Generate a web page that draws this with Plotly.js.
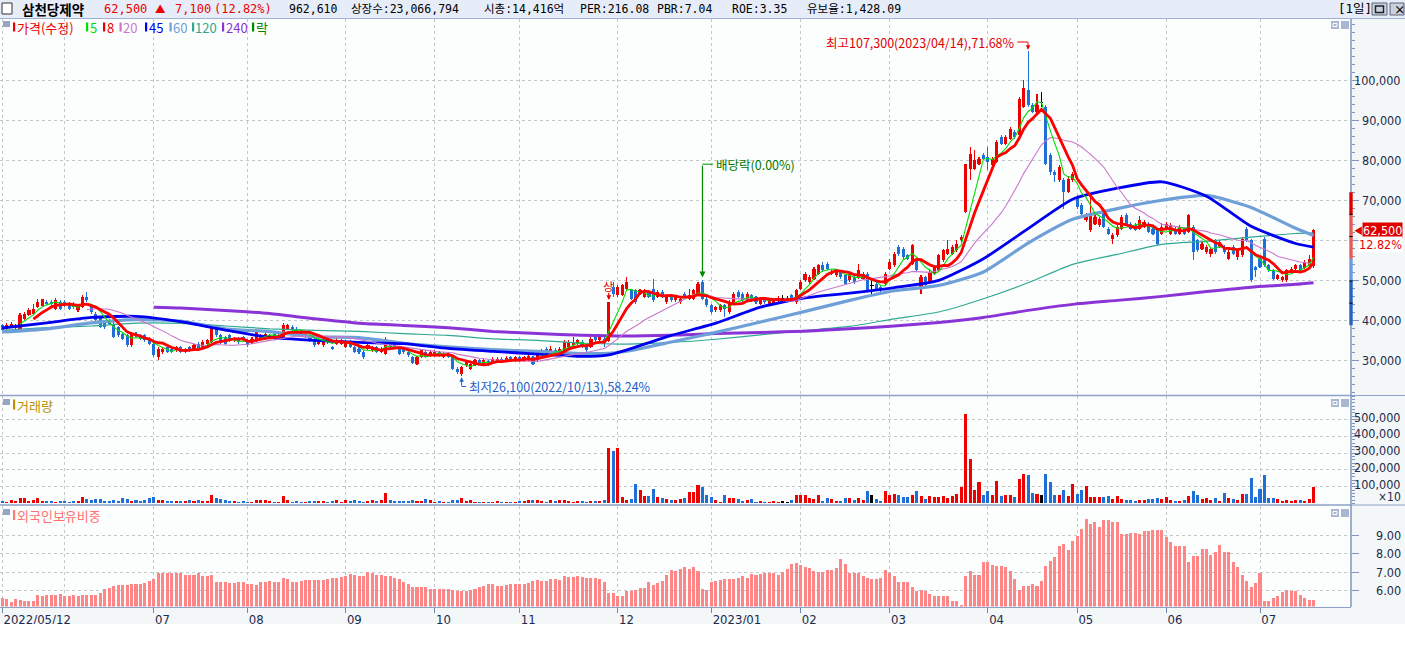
<!DOCTYPE html>
<html><head><meta charset="utf-8">
<script src="https://cdn.plot.ly/plotly-3.0.1.min.js"></script>
<style>html,body{margin:0;padding:0;background:#fff;}#chart{width:1405px;height:648px;}</style>
</head><body><div id="chart"></div>
<script>
// ================= DATA =================
const monthIdx  = [0,34,55,77,97,116,138,159,179,199,221,241,261,282];
const monthText = ['2022/05/12','07','08','09','10','11','12','2023/01','02','03','04','05','06','07'];
const juneIdx = [14];

const open = [38800,37900,38300,38200,37900,40400,41250,41650,43300,43600,
44600,44600,42900,44600,44600,44150,44150,42500,43300,45850,
43750,41650,40800,39600,40000,39150,38300,36650,36250,33750,
36650,36250,36250,35400,34150,30850,32100,33300,32900,32500,
33300,32100,33300,32900,34150,33300,34150,34600,38100,36250,
35850,36250,35000,35400,35850,35000,34600,35000,35400,35400,
35850,36650,35400,35850,37900,38300,37900,37100,35850,36250,
35400,34150,33750,35400,33300,34150,34150,33300,34600,33300,
32900,32100,32900,32500,33300,32100,31650,34600,34150,32900,
32900,32100,30850,29150,30850,32100,31250,31250,32100,30850,
31650,30850,27900,26500,28750,27900,28750,30000,28750,29800,
29600,29600,30400,29850,30850,30000,30850,30000,30150,30850,
30000,31650,32900,32100,32650,32100,32100,33300,33750,34150,
34600,33750,33300,35850,35000,35400,34900,48300,46300,46250,
47900,47500,47500,46700,45850,47100,47900,45850,47100,44600,
46250,45000,44600,46650,45400,45400,46650,49600,45400,43750,
42500,42500,43750,42100,44150,47100,46650,45000,46250,45850,
44150,45400,44150,44350,45000,45400,45400,46250,44600,47900,
50000,49600,50400,51650,53750,54150,51650,51250,52100,51250,
50000,50850,50850,50400,51650,48750,49150,48300,49150,52900,
53750,58300,57900,56250,54150,55000,48350,50850,49600,51650,
52500,55000,56650,56650,57500,60000,67100,77900,77900,79150,
81250,80850,78750,79600,85850,84150,85400,87100,86250,93350,
97500,93750,92100,94500,93350,81250,77100,75000,75150,72100,
75000,70850,68750,65000,62500,64150,63750,67500,62900,60400,
61250,62900,66250,64150,63750,62900,63350,64150,62900,62500,
61650,62900,61650,62900,61650,62900,62100,63350,60000,57900,
57100,56500,60000,58350,58350,55400,58350,55850,56250,62900,
60000,53350,55400,60400,53750,52500,50400,50000,50000,52100,
52900,53750,53150,53750,53500];

const high = [39200,39300,39500,39000,41800,42100,43000,44150,45400,45400,
45000,45000,45500,45000,45000,44500,44600,44100,46300,47100,
44000,42000,41200,40000,40400,39500,38700,37000,36600,37000,
37100,36700,36700,35800,34500,33300,33300,33700,33300,33600,
33700,33200,33700,34100,34500,35000,35400,38400,38600,36600,
36200,36600,35800,35800,36200,35400,35800,37500,36700,37100,
36700,37000,36600,39400,39200,38800,38300,37500,37000,36600,
35800,35400,35400,35800,33600,35500,35400,35000,35000,33700,
33300,32500,34100,33700,33700,33300,35800,35000,34500,33300,
33200,32500,31200,31200,32900,32500,32500,32500,32400,32000,
32000,31200,28300,28700,30000,29500,30400,30400,30400,30200,
30800,30800,30800,31000,31200,31200,31100,31200,31400,31200,
32000,32900,33300,33600,33000,33300,35000,35000,35800,35400,
35000,34100,35800,36600,36700,35800,44700,49600,48800,49200,
50800,47900,47900,47900,47900,47500,50400,47500,47500,46700,
46600,46200,46200,47000,47900,47900,49600,50000,45800,44200,
43700,44100,44100,45000,47100,47500,47000,47000,46600,46200,
45800,45800,45500,45500,46000,46250,46200,46600,47900,50000,
52100,51300,53300,54200,54600,54600,52500,52900,52500,51600,
52000,51200,54150,52000,52000,50000,49500,48700,52000,55400,
57100,58750,58300,56700,59000,55400,51300,51200,52500,53700,
56700,57900,60000,58800,60000,61300,79100,83350,82500,80800,
81700,83300,80800,85000,86300,86300,88300,87500,95800,100000,
107300,94200,96650,97100,93800,81700,77500,78800,75500,76000,
77100,71300,69200,66700,70850,66300,65800,67900,63300,61700,
63800,66300,66700,64600,64200,66000,65000,64600,63300,62900,
64350,64600,64200,63300,63700,63300,66600,63800,60400,59600,
58800,58300,60400,60000,58800,57500,58800,57900,60800,63350,
60400,53700,55800,60850,54100,52900,51600,51200,52900,53300,
54100,54100,55000,56250,62900];

const low = [37300,37700,38000,37900,37600,40100,41000,41300,43000,43300,
43800,43600,42700,42500,43400,42500,42900,42100,43000,44600,
41700,39600,38000,37900,38900,35500,35900,35000,33300,33400,
35900,35000,34600,33800,30800,30000,31700,31800,31800,32100,
31900,31800,32200,32600,32600,33000,33900,34300,35900,34200,
33900,34600,34600,34200,34700,33300,34200,34700,35000,35100,
35500,35100,35100,35500,37500,37100,36300,35900,35500,34600,
33400,33800,33400,34200,32500,33900,33800,33000,33000,31800,
31700,30400,32500,32100,31800,31800,31300,33000,32900,31300,
31700,30900,29000,28900,30500,30500,30900,30900,30900,30500,
30500,27500,26700,26100,28400,27700,28500,28900,28500,28700,
29300,29300,29300,29500,29700,29700,29500,29700,29900,28800,
29700,31300,31300,31800,31500,31800,31800,33000,33400,33800,
33000,32100,33000,34700,34700,33400,34500,45800,45800,46000,
47500,45000,44200,46300,45500,45500,44700,45500,45500,44200,
44700,44600,44200,45500,45000,45000,46300,45000,43300,41700,
42100,42100,40850,41700,43800,45500,44600,44600,44600,44200,
43800,44200,43800,44000,44700,44800,44900,44700,44200,47500,
49600,49200,50000,51300,52100,52500,51300,50800,50400,48800,
49600,49200,50400,50000,47100,46650,47500,47100,48800,52500,
53300,56200,55400,55000,53800,52100,46700,48300,49200,51300,
52100,54600,56300,56300,57100,59600,66700,75000,77500,78800,
80000,77500,78300,79200,83800,83800,85000,85400,85800,93000,
93300,91700,91700,93300,78800,76300,74500,74600,67900,71700,
74600,67900,66300,64600,62100,63800,63300,63000,61300,59150,
60900,62500,63800,62500,62300,62500,63000,61700,61300,58800,
61300,62500,61300,61300,61300,61300,61700,55000,57100,57500,
56700,55850,56700,58000,56700,55000,56300,55000,55900,59600,
49600,50850,53000,53300,52100,50000,50000,49600,49700,51700,
52100,52100,52800,53400,53200];

const close = [37500,38900,39150,38500,41400,41650,42500,42900,44600,45250,
44150,44150,45000,42900,43750,42900,43300,43750,45850,45000,
42100,40000,38300,38300,39150,35850,36250,35400,33750,36650,
36250,35400,35000,34150,31250,32900,32900,32100,32100,33300,
32100,32900,32500,33750,32900,34600,35000,38100,36250,34600,
34150,35000,35400,34600,35000,33750,35400,37100,36250,36650,
36250,35400,36250,38900,38750,37500,36650,36250,36650,35000,
33750,35000,35000,34600,32900,35150,35000,34600,33300,32100,
32100,30850,33750,33300,32100,32900,35400,33300,33300,31650,
32100,31250,29350,30850,32500,30850,32100,32100,31250,31650,
30850,27900,27100,28350,29600,29150,30000,29150,30000,29000,
30400,30400,29600,30650,30000,30850,29850,30850,31000,29150,
31650,32500,31650,32900,31850,32900,34600,34600,34600,35000,
33300,32500,35400,35000,36250,34400,44700,46700,48300,48750,
49600,45400,44600,47500,47500,45850,45000,47100,45850,46250,
45000,45850,45400,45850,46250,47500,49150,45400,43750,42100,
43300,43750,42900,44600,46650,45850,45000,46650,45000,44600,
45400,44600,45150,45150,45650,45400,45400,45000,47500,49600,
51650,50850,52900,53750,52500,52900,52100,52500,50850,49150,
51650,49600,52500,51650,47500,48750,47900,47500,51650,54600,
56650,56650,55850,55400,58750,52500,50850,48750,52100,53350,
56250,57500,57900,58350,59000,60850,79100,81650,80000,80400,
80400,79600,80400,84600,84150,85850,87900,85850,95400,97900,
93750,92100,93750,94500,79150,77100,76250,78350,72100,75400,
76650,68350,66650,66250,66250,65850,65400,63350,61650,61250,
63300,65850,64150,62900,62650,65150,64600,62100,61650,59150,
63350,64150,63750,61650,63350,61650,66250,57100,57500,59150,
58350,57900,57100,59600,57100,57100,56650,57500,60400,60000,
50000,52500,53350,53750,52500,50400,51250,50850,52500,52900,
53750,52500,54600,55400,62500];

// volume in thousands of axis units (axis unit = 10 shares)
const volumeK = [12,8,18,12,31,31,12,18,31,12,
12,12,6,12,12,6,12,12,37,24,
18,24,24,12,12,18,12,31,24,12,
18,12,18,31,37,18,18,12,12,12,
12,12,18,12,18,12,12,49,31,24,
18,12,12,6,12,6,6,18,18,18,
12,6,6,43,18,6,12,6,6,12,
12,12,12,6,12,18,6,18,12,18,
12,6,12,18,14,18,61,18,12,12,
12,12,18,12,12,24,18,6,12,6,
6,18,18,31,12,18,6,6,6,8,
8,12,6,6,8,6,12,12,18,18,
18,12,6,18,12,18,18,12,6,12,
12,6,12,12,12,18,333,316,333,37,
18,24,116,80,43,43,86,37,31,24,
18,18,24,30,71,71,113,101,53,36,
18,6,48,30,30,24,12,18,24,6,
12,6,6,12,6,12,6,18,48,53,
48,30,24,53,12,30,24,12,12,30,
30,18,30,18,77,53,24,12,77,53,
59,53,36,36,53,77,42,24,42,36,
36,42,30,42,59,101,535,267,83,131,
53,77,48,137,42,48,48,36,149,178,
172,65,59,53,178,131,48,53,83,42,
119,59,83,107,36,36,36,36,42,24,
42,24,18,18,12,18,18,24,24,30,
24,36,18,12,12,18,42,77,53,24,
30,18,30,12,65,30,24,18,59,59,
154,36,89,172,30,30,24,12,18,12,
18,18,12,24,96.261];

// foreign ownership ratio (%)
const foreign = [5.57,5.52,5.36,5.52,5.48,5.40,5.40,5.40,5.75,5.70,
5.72,5.72,5.72,5.80,5.70,5.70,5.72,5.70,5.75,5.75,
5.72,5.75,5.86,6.05,6.15,6.25,6.30,6.30,6.32,6.37,
6.35,6.37,6.40,6.50,6.64,6.95,6.95,6.95,6.95,6.95,
6.95,6.87,6.87,6.87,6.97,6.77,6.80,6.87,6.48,6.48,
6.48,6.42,6.39,6.45,6.45,6.33,6.33,6.30,6.48,6.48,
6.52,6.45,6.45,6.67,6.60,6.48,6.45,6.52,6.58,6.58,
6.58,6.58,6.58,6.64,6.66,6.68,6.72,6.77,6.90,6.83,
6.80,6.77,7.00,6.97,6.83,6.83,6.81,6.77,6.68,6.60,
6.48,6.37,6.20,6.17,6.17,6.17,6.06,6.06,6.06,6.06,
6.06,6.00,5.94,5.94,5.94,6.00,6.10,6.19,6.25,6.33,
6.35,6.25,6.25,6.30,6.33,6.37,6.37,6.37,6.39,6.52,
6.58,6.52,6.52,6.64,6.60,6.58,6.81,6.73,6.75,6.77,
6.71,6.70,6.68,6.68,6.60,6.48,5.83,5.83,5.67,5.67,
5.94,5.94,6.00,6.12,6.12,6.48,6.29,6.40,6.52,6.83,
7.14,7.06,7.20,7.26,7.16,7.26,7.06,6.10,6.00,6.48,
6.52,6.58,6.60,6.64,6.64,6.68,6.77,6.68,6.92,6.87,
6.90,6.93,6.93,6.95,6.87,7.02,7.20,7.45,7.49,7.41,
7.26,7.22,7.06,7.02,7.02,7.10,7.14,7.22,7.74,7.45,
6.97,6.97,6.97,6.77,6.68,6.64,6.64,6.68,7.10,6.97,
6.77,6.45,6.48,6.48,6.19,5.94,6.00,5.94,5.81,5.71,
5.71,5.71,5.67,5.42,5.42,5.17,6.77,7.06,6.87,6.83,
7.55,7.55,7.39,7.35,7.33,7.29,7.06,6.64,6.00,6.25,
6.25,6.37,6.25,6.52,7.35,7.60,7.84,8.42,8.55,8.22,
8.70,9.00,9.35,9.93,9.66,9.74,9.51,9.87,9.89,9.74,
9.74,9.10,9.10,9.14,9.14,9.10,9.24,9.29,9.31,9.31,
9.31,8.92,8.65,8.42,8.42,8.42,7.55,7.90,7.90,8.25,
8.25,7.92,8.10,8.50,8.10,8.10,7.55,7.26,6.87,6.50,
6.19,6.39,6.93,5.42,5.42,5.60,5.71,5.90,6.00,5.94,
5.98,5.75,5.60,5.48,5.48];

// long moving averages (their history starts before the window)
const ma45Idx = [0,10,20,30,40,50,60,70,80,90,100,110,120,130,136,140,150,160,170,180,190,200,210,220,230,240,250,260,270,280,290,294];
const ma45Val = [38100,39400,40750,41000,39700,37600,35750,35000,34500,34200,33000,32250,31600,31000,31400,32600,36250,39300,43300,45600,46800,48200,50000,55400,62900,70250,73000,74600,71000,63500,59200,58300];
const ma60Idx = [0,10,20,30,40,50,60,70,80,90,100,110,120,130,136,140,150,160,170,180,190,200,210,220,230,240,250,260,270,280,290,294];
const ma60Val = [37100,37900,39400,40200,39800,37900,37200,35900,35700,34300,33400,32700,32250,31700,31800,32300,34600,37000,39600,42250,45000,47400,48750,52100,59300,65250,67900,70000,71200,68200,63000,61200];
const ma120Idx = [0,10,20,30,40,50,60,70,80,90,100,110,120,130,140,150,160,170,180,190,200,210,220,230,240,250,260,270,280,290,294];
const ma120Val = [37500,38200,38600,39300,39250,38600,37900,37500,37250,36700,36250,35400,35000,34300,34100,34500,35300,36400,37500,38500,40400,42100,45400,49400,54000,56500,59000,59750,60800,61700,61850];
const ma240Idx = [34,40,50,60,70,80,90,100,110,120,130,140,150,160,170,180,190,200,210,220,230,240,250,260,270,280,290,294];
const ma240Val = [43300,43100,42500,41700,40400,39300,38750,38150,37250,36700,36300,36100,36300,36700,37000,37300,37900,38600,39500,40750,42500,44000,45000,46000,47200,48300,49000,49400];

const priceTicks = [30000,40000,50000,60000,70000,80000,90000,100000];
const volTicks = [100000,200000,300000,400000,500000];
const forTicks = [6,7,8,9];
const legendLabels = ['가격(수정)','5','8','20','45','60','120','240','락'];
const exDivIdx = 157;     // 배당락 2022/12/28
const limitUpIdx = 136;   // 상한가 2022/11/29
const highLabel = '최고107,300(2023/04/14),71.68%';
const lowLabel  = '최저26,100(2022/10/13),58.24%';
const headerInfo = ['상장수:23,066,794','시총:14,416억','PER:216.08','PBR:7.04','ROE:3.35','유보율:1,428.09'];
const stockName = '삼천당제약';

// ================= STYLE / LAYOUT =================
const W = 1405, H = 648;
const px = v => v / W;
const py = v => 1 - v / H;
const RED = '#ee0000', BLUE = '#1f6fd6', BLACK = '#000000';
const KFONT = 'Noto Sans CJK KR, sans-serif';
const NFONT = 'DejaVu Sans Condensed, Noto Sans CJK KR, sans-serif';
const MFONT = 'DejaVu Sans Mono, Noto Sans CJK KR, monospace';
const AXCOL = '#1e2a4e';
const fmt = n => Math.round(n).toLocaleString('en-US');

const N = close.length;
const idx = close.map((_, i) => i);
const cCol = close.map((c, i) => c > open[i] ? RED : (c < open[i] ? BLUE : BLACK));
function sma(arr, n) {
  return arr.map((_, i) => i < n - 1 ? null : arr.slice(i - n + 1, i + 1).reduce((a, b) => a + b, 0) / n);
}

const traces = [];
traces.push({type:'bar', x: idx, y: foreign, width: 0.68, marker:{color:'#ff8686', line:{width:0}}, xaxis:'x', yaxis:'y3', hoverinfo:'skip'});
traces.push({type:'bar', x: idx, y: volumeK.map(v => v * 1000), width: 0.68, marker:{color: cCol, line:{width:0}}, xaxis:'x', yaxis:'y2', hoverinfo:'skip'});
traces.push({type:'bar', x: idx, base: low, y: high.map((h, i) => h - low[i]), width: 0.24, marker:{color: cCol, line:{width:0}}, xaxis:'x', yaxis:'y', hoverinfo:'skip'});
traces.push({type:'bar', x: idx,
  base: close.map((c, i) => c === open[i] ? c - 130 : Math.min(c, open[i])),
  y: close.map((c, i) => Math.max(Math.abs(c - open[i]), 260)),
  width: 0.7, marker:{color: cCol, line:{width:0}}, xaxis:'x', yaxis:'y', hoverinfo:'skip'});

function line(x, y, color, width, shape) {
  return {type:'scatter', mode:'lines', x, y, line:{color, width, shape: shape || 'linear', smoothing: 0.6}, xaxis:'x', yaxis:'y', hoverinfo:'skip', connectgaps:false};
}
traces.push(line(ma120Idx, ma120Val, '#2fa893', 1.2, 'spline'));
traces.push(line(ma240Idx, ma240Val, '#8a33d6', 3, 'spline'));
traces.push(line(ma60Idx, ma60Val, '#6f9fd8', 3.2, 'spline'));
traces.push(line(ma45Idx, ma45Val, '#0000f0', 2.8, 'spline'));
traces.push(line(idx, sma(close, 20), '#cc77cc', 1.1));
traces.push(line(idx, sma(close, 5), '#00dd00', 1.1));
traces.push(line(idx, sma(close, 8), '#ff0000', 2.8));

// ---------- shapes ----------
const shapes = [];
function rect(x0, y0, x1, y1, fill, lc, lw) {
  shapes.push({type:'rect', xref:'paper', yref:'paper', x0:px(x0), x1:px(x1), y0:py(y1), y1:py(y0), fillcolor:fill, line:{color: lc || fill, width: lw == null ? 0 : lw}, layer:'above'});
}
function hline(y, x0, x1, color, w) {
  shapes.push({type:'line', xref:'paper', yref:'paper', x0:px(x0), x1:px(x1), y0:py(y), y1:py(y), line:{color, width:w}, layer:'above'});
}
rect(0, 0, W, 18, '#e7edf8');
hline(18.5, 0, W, '#9fb2d4', 1);
rect(2, 3, 12, 14, '#ffffff', '#333333', 1);
rect(1372, 3, 1387, 15, '#c9d0de', '#5d6678', 1);
rect(1375.5, 6, 1383.5, 12.5, 'rgba(0,0,0,0)', '#222', 1.4);
rect(1390, 3, 1404, 15, '#c9d0de', '#5d6678', 1);
rect(0, 624, W, H, '#ffffff');
hline(395.5, 0, 1351, '#8ca2c8', 1.5);
hline(505, 0, 1351, '#8ca2c8', 1.5);
hline(395.5, 1351, W, '#8ca2c8', 1);
hline(505, 1351, W, '#8ca2c8', 1);
shapes.push({type:'line', xref:'paper', yref:'paper', x0:px(1351), x1:px(1351), y0:py(607), y1:py(19), line:{color:'#8096c0', width:1.5}, layer:'above'});
[20, 398, 508].forEach(y0 => {
  rect(3, y0 + 1, 10, y0 + 7, '#97a5c2');
  rect(1331, y0 + 1, 1339, y0 + 9, '#a9b7d2');
  rect(1333, y0 + 3.5, 1337, y0 + 6.5, 'rgba(0,0,0,0)', '#ffffff', 1);
  rect(1341, y0 + 1, 1349, y0 + 9, '#a9b7d2');
});
const legendColors = [RED, '#00dd00', RED, '#cc77cc', '#0000f0', '#6f9fd8', '#2fa893', '#8a33d6', '#008800'];
const legendX = [13, 86, 103, 119.5, 145, 169.5, 192, 222, 252];
legendX.forEach((x, i) => rect(x, 22.5, x + 2.2, 31.5, legendColors[i]));
rect(13, 399.5, 15.2, 409.5, '#c09000');
rect(13, 510, 15.2, 520, '#ff7a7a');

const prev = close[N - 2], last = close[N - 1];
const upLim = Math.floor(prev * 1.3 / 100) * 100, dnLim = Math.ceil(prev * 0.7 / 100) * 100;
function gauge(a, b, col) {
  shapes.push({type:'rect', xref:'paper', yref:'y', x0:px(1349.3), x1:px(1352.7), y0:a, y1:b, fillcolor:col, line:{width:0}, layer:'above'});
}
gauge(prev * 1.2, upLim, '#dd0000');
gauge(prev, prev * 1.2, '#e85a5a');
gauge(prev * 0.9, prev, '#6c9be0');
gauge(dnLim, prev * 0.9, '#2a62c4');
[1.1, 1.2, 0.9, 0.8].forEach(f => shapes.push({type:'line', xref:'paper', yref:'y', x0:px(1349.3), x1:px(1352.7), y0:prev * f, y1:prev * f, line:{color:'#000', width:1}, layer:'above'}));

let hiIdx = 0, loIdx = 0;
high.forEach((h, i) => { if (h > high[hiIdx]) hiIdx = i; });
low.forEach((l, i) => { if (l < low[loIdx]) loIdx = i; });
shapes.push({type:'line', xref:'x', yref:'y', x0:hiIdx - 2.4, x1:hiIdx, y0:109500, y1:109500, line:{color:RED, width:1}});
shapes.push({type:'line', xref:'x', yref:'y', x0:loIdx, x1:loIdx + 1.0, y0:23500, y1:23500, line:{color:'#1f5fc8', width:1}});
shapes.push({type:'line', xref:'x', yref:'y', x0:exDivIdx, x1:exDivIdx + 2.4, y0:79000, y1:79000, line:{color:'#008800', width:1}});

// ---------- annotations ----------
const ann = [];
function pt(text, x, y, font, extra) {
  ann.push(Object.assign({xref:'paper', yref:'paper', x:px(x), y:py(y), xanchor:'left', yanchor:'middle', text, showarrow:false, font}, extra || {}));
}
pt(stockName, 20, 9, {family:KFONT, size:13.5, color:'#000', weight:'bold'});
const chg = last - prev, pct = (chg / prev * 100).toFixed(2);
const hf = {family:MFONT, size:12, color:RED};
pt(fmt(last), 102, 9, hf);
pt('▲', 153, 9, {family:KFONT, size:10.5, color:RED});
pt(fmt(chg), 173, 9, hf);
pt('(' + pct + '%)', 212, 9, hf);
const hb = {family:MFONT, size:11.5, color:'#000'};
pt(fmt(volumeK[N - 1] * 10000), 287, 9, hb);
[349, 482, 578, 655, 730, 805].forEach((x, i) => pt(headerInfo[i], x, 9, hb));
pt('[1일]', 1336, 9, {family:MFONT, size:12.5, color:'#000'});
pt('×', 1392, 9, {family:KFONT, size:11.5, color:'#111', weight:'bold'});
legendLabels.forEach((t, i) => pt(t, legendX[i] + 1.5, 27.5, {family:KFONT, size:13, color: legendColors[i]}));
pt('거래량', 15, 405, {family:KFONT, size:13, color:'#b89000'});
pt('외국인보유비중', 15, 515, {family:KFONT, size:13, color:'#ff7070'});

const af = {family:NFONT, size:12.5, color:AXCOL};
// price labels (the one hidden behind the current price tag is skipped, as in the reference)
const yPix = v => 80 + (100000 - v) / 250;
priceTicks.filter(v => Math.abs(yPix(v) - (yPix(last) + 7)) > 12).forEach(v =>
  ann.push({xref:'paper', yref:'y', x:px(1403), y:v, xanchor:'right', yanchor:'middle', text:fmt(v), showarrow:false, font:af}));
volTicks.forEach(v => ann.push({xref:'paper', yref:'y2', x:px(1403), y:v, yshift:2.5, xanchor:'right', yanchor:'middle', text:fmt(v), showarrow:false, font:af}));
forTicks.forEach(v => ann.push({xref:'paper', yref:'y3', x:px(1403), y:v, xanchor:'right', yanchor:'middle', text:v.toFixed(2), showarrow:false, font:af}));
ann.push({xref:'paper', yref:'paper', x:px(1403), y:py(496.5), xanchor:'right', yanchor:'middle', text:'×10', showarrow:false, font:{family:NFONT, size:12, color:AXCOL}});
ann.push({xref:'paper', yref:'y', x:px(1403), y:last, xanchor:'right', yanchor:'middle', text:fmt(last), showarrow:false, font:{family:NFONT, size:12.5, color:'#fff'}, bgcolor:'#e00000', borderpad:0});
ann.push({xref:'paper', yref:'y', x:px(1403), y:last, yshift:-14, xanchor:'right', yanchor:'middle', text:pct + '%', showarrow:false, font:{family:NFONT, size:12.5, color:'#e00000'}, bgcolor:'#ffffff', borderpad:0});
ann.push({xref:'paper', yref:'y', x:px(1352), y:last, xanchor:'left', yanchor:'middle', text:'◀', showarrow:false, font:{family:KFONT, size:9, color:'#e00000'}});
ann.push({xref:'x', yref:'y', x:hiIdx - 2.5, y:109500, xanchor:'right', yanchor:'middle', text:highLabel, showarrow:false, font:{family:KFONT, size:12.5, color:'#e00000'}});
ann.push({xref:'x', yref:'y', x:hiIdx, y:high[hiIdx] + 250, ax:0, ay:-9, text:'', showarrow:true, arrowhead:2, arrowsize:0.9, arrowwidth:1, arrowcolor:RED});
ann.push({xref:'x', yref:'y', x:loIdx + 1.1, y:23500, xanchor:'left', yanchor:'middle', text:lowLabel, showarrow:false, font:{family:KFONT, size:12.5, color:'#1f5fc8'}});
ann.push({xref:'x', yref:'y', x:loIdx, y:low[loIdx] - 300, ax:0, ay:10, text:'', showarrow:true, arrowhead:2, arrowsize:0.9, arrowwidth:1, arrowcolor:'#1f5fc8'});
ann.push({xref:'x', yref:'y', x:exDivIdx + 2.5, y:79000, xanchor:'left', yanchor:'middle', text:'배당락(0.00%)', showarrow:false, font:{family:KFONT, size:12.5, color:'#007700'}});
ann.push({xref:'x', yref:'y', x:exDivIdx, y:high[exDivIdx] + 700, axref:'x', ayref:'y', ax:exDivIdx, ay:79000, text:'', showarrow:true, arrowhead:2, arrowsize:1, arrowwidth:1.2, arrowcolor:'#008800'});
ann.push({xref:'x', yref:'y', x:limitUpIdx, y:48600, xanchor:'center', yanchor:'middle', text:'상', showarrow:false, font:{family:KFONT, size:11.5, color:'#e00000'}});
ann.push({xref:'x', yref:'y', x:limitUpIdx, y:high[limitUpIdx] + 400, axref:'x', ayref:'y', ax:limitUpIdx, ay:47300, text:'', showarrow:true, arrowhead:2, arrowsize:0.8, arrowwidth:1.2, arrowcolor:'#e00000'});

const gridStyle = {showgrid:true, gridcolor:'#c4c8ca', griddash:'dot', gridwidth:1};
const yBase = Object.assign({side:'right', anchor:'x', showticklabels:false, ticks:'outside', ticklen:7, tickcolor:'#7f95bd', tickwidth:1, zeroline:false, showline:false, fixedrange:true, tickmode:'array'}, gridStyle);

const layout = {
  width: W, height: H, margin:{l:0, r:0, t:0, b:0},
  paper_bgcolor:'#f3f7f7', plot_bgcolor:'#fcfefe',
  showlegend:false, barmode:'overlay', bargap:0,
  xaxis: Object.assign({domain:[0, px(1351)], range:[-0.49, 302.4], anchor:'y3', tickmode:'array', tickvals: monthIdx, ticktext: monthText,
    ticks:'outside', ticklen:5, tickcolor:'#6f86b0', ticklabelposition:'outside right',
    tickfont:{family:NFONT, size:13, color:AXCOL}, zeroline:false, showline:true, linecolor:'#8ca2c8', linewidth:1.5, fixedrange:true,
    minor:{tickmode:'array', tickvals: juneIdx, showgrid:true, gridcolor:'#c4c8ca', griddash:'dot', ticks:''}}, gridStyle),
  yaxis: Object.assign({}, yBase, {domain:[py(395.5), py(19)], range:[21250, 115250], tickvals: priceTicks,
    minor:{dtick:2000, tick0:0, ticks:'outside', ticklen:3, tickcolor:'#7f95bd', showgrid:false}}),
  yaxis2: Object.assign({}, yBase, {domain:[py(504.5), py(396)], range:[-6000, 641000], tickvals: volTicks,
    minor:{dtick:20000, tick0:0, ticks:'outside', ticklen:3, tickcolor:'#7f95bd', showgrid:false}}),
  yaxis3: Object.assign({}, yBase, {domain:[py(606.5), py(505.5)], range:[5.111, 10.667], tickvals: forTicks}),
  shapes, annotations: ann
};

Plotly.newPlot('chart', traces, layout, {staticPlot:true, displayModeBar:false});
</script>
</body></html>
